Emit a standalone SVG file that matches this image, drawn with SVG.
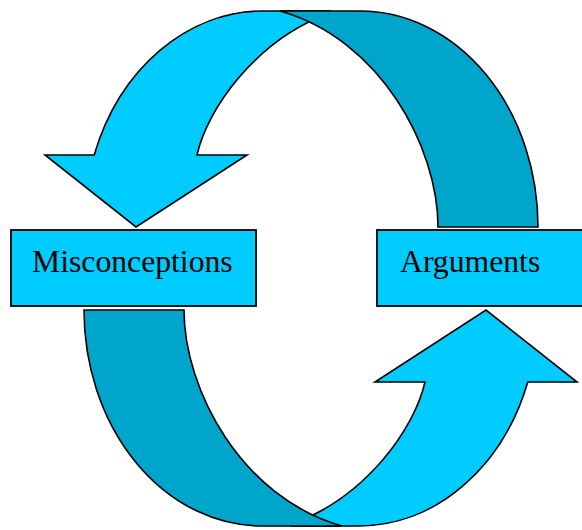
<svg xmlns="http://www.w3.org/2000/svg" width="582" height="530" viewBox="0 0 582 530">
  <style>
    .front { fill: #00CCFF; stroke: #000; stroke-width: 1.6; stroke-linejoin: miter; }
    .back { fill: #00A5CC; stroke: #000; stroke-width: 1.6; stroke-linejoin: miter; }
    .box { fill: #00CCFF; stroke: #000; stroke-width: 1.8; }
    .label { font-family: "Liberation Serif", "Times New Roman", serif; font-size: 31.7px; fill: #000; }
  </style>
  <defs>
    <!-- front face of the curved arrow: elliptical shaft rising from the head, tail tucked under the back face -->
    <path id="arrowFront" d="M 94.2,155 A 179 216 0 0 1 263,11 L 330,11 L 330,13 C 255,40 207,110 197,155 L 247,155 L 136,227 L 45,155 Z"/>
    <!-- back face of the ribbon, folding down on the far side -->
    <path id="arrowBack" d="M 280,11 L 360,11 A 178 216 0 0 1 538,227 L 438,227 C 438,147 380,39 280,11 Z"/>
  </defs>

  <g id="connectors">
    <!-- upper loop: Arguments -> Misconceptions -->
    <g id="loop-top">
      <use href="#arrowFront" class="front"/>
      <use href="#arrowBack" class="back"/>
    </g>
    <!-- lower loop: Misconceptions -> Arguments (half-turn of the upper loop) -->
    <g id="loop-bottom" transform="rotate(180 311 268.5)">
      <use href="#arrowFront" class="front"/>
      <use href="#arrowBack" class="back"/>
    </g>
  </g>

  <g id="misconceptions">
    <rect class="box" x="11" y="230" width="245" height="76"/>
    <text class="label" x="32" y="272">Misconceptions</text>
  </g>

  <g id="arguments">
    <rect class="box" x="377" y="230" width="210" height="76"/>
    <text class="label" x="400" y="272">Arguments</text>
  </g>
</svg>
